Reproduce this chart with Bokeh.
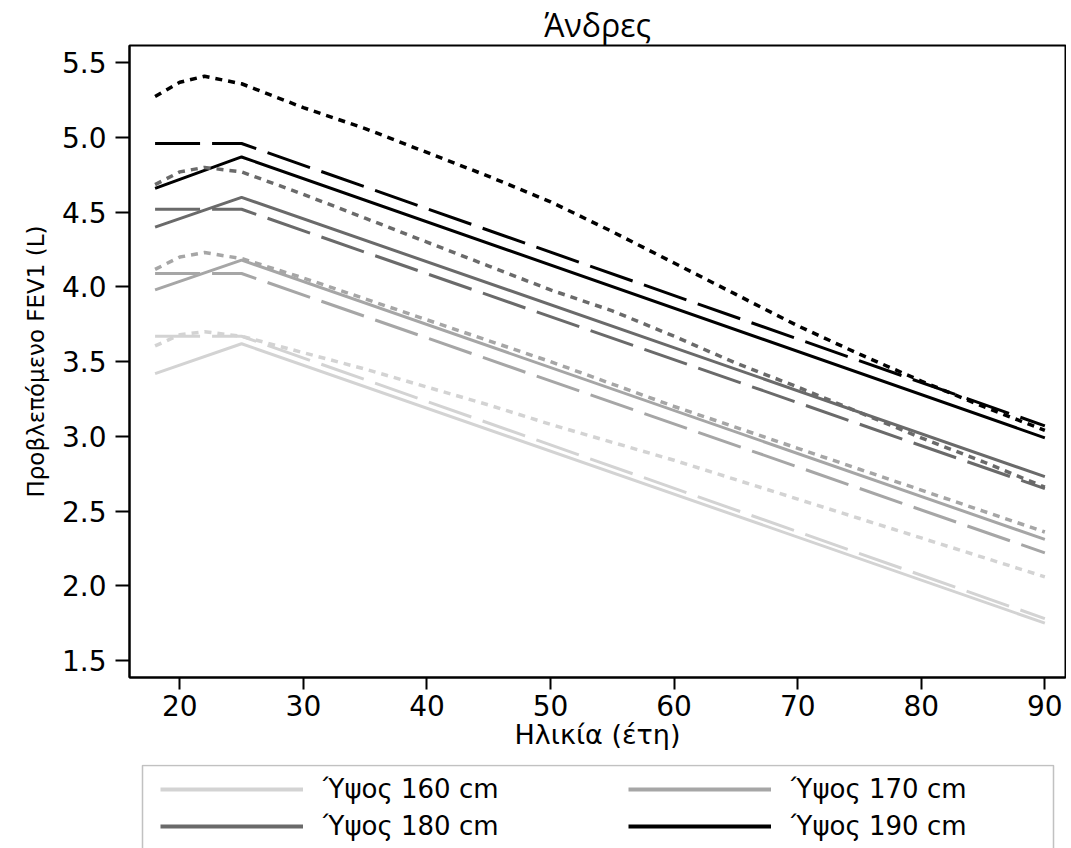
from bokeh.plotting import figure
from bokeh.models import Range1d, FixedTicker, NumeralTickFormatter, Legend, LegendItem, BoxAnnotation
from bokeh.layouts import column
from bokeh.embed import file_html
from bokeh.resources import INLINE

# ---------------- data ----------------
heights = ["160", "170", "180", "190"]
colors = ["#d3d3d3", "#a6a6a6", "#6a6a6a", "#000000"]

age_lin = [18, 25, 90]
solid_160 = [3.42, 3.62, 1.75]
solid_170 = [3.98, 4.18, 2.31]
solid_180 = [4.40, 4.60, 2.73]
solid_190 = [4.66, 4.87, 2.99]

dash_160 = [3.67, 3.67, 1.78]
dash_170 = [4.09, 4.09, 2.22]
dash_180 = [4.52, 4.52, 2.65]
dash_190 = [4.96, 4.96, 3.07]

age_curve = [18, 20, 22, 25, 30, 35, 40, 45, 50, 55, 60, 65, 70, 75, 80, 85, 90]
dot_160 = [3.605, 3.68, 3.70, 3.67, 3.56, 3.45, 3.33, 3.21, 3.08, 2.96, 2.84, 2.71, 2.58, 2.45, 2.32, 2.19, 2.06]
dot_170 = [4.118, 4.20, 4.23, 4.19, 4.06, 3.92, 3.78, 3.64, 3.50, 3.35, 3.20, 3.06, 2.92, 2.78, 2.64, 2.50, 2.36]
dot_180 = [4.685, 4.77, 4.80, 4.77, 4.62, 4.46, 4.30, 4.14, 3.98, 3.84, 3.67, 3.49, 3.33, 3.16, 2.99, 2.83, 2.66]
dot_190 = [5.275, 5.37, 5.41, 5.36, 5.20, 5.06, 4.90, 4.74, 4.57, 4.37, 4.16, 3.95, 3.74, 3.55, 3.37, 3.20, 3.04]

x_ticks = [20, 30, 40, 50, 60, 70, 80, 90]
y_ticks = [1.5, 2.0, 2.5, 3.0, 3.5, 4.0, 4.5, 5.0, 5.5]

solids = [solid_160, solid_170, solid_180, solid_190]
dashes = [dash_160, dash_170, dash_180, dash_190]
dots = [dot_160, dot_170, dot_180, dot_190]

W = 1066
BL = 129
BR = 1
PH = 764
TOTAL_H = 848

# ---------------- main figure ----------------
p = figure(width=W, height=PH, output_backend="svg", toolbar_location=None,
           x_range=Range1d(15.93, 91.67), y_range=Range1d(1.386, 5.616),
           min_border_left=BL, min_border_right=BR, min_border_top=44,
           min_border_bottom=87, title="Άνδρες")

p.title.text_font = "Open Sans"
p.title.text_font_size = "32px"
p.title.text_font_style = "normal"
p.title.text_color = "black"
p.title.align = "center"
p.title.standoff = 0

p.xgrid.visible = False
p.ygrid.visible = False
p.outline_line_color = "black"
p.outline_line_width = 2

for ax in (p.xaxis[0], p.yaxis[0]):
    ax.axis_line_color = "black"
    ax.axis_line_width = 2
    ax.major_tick_line_color = "black"
    ax.major_tick_line_width = 2
    ax.major_tick_in = 0
    ax.minor_tick_line_color = None
    ax.major_label_text_font = "DejaVu Sans"
    ax.major_label_text_font_size = "28px"
    ax.major_label_text_color = "black"
    ax.axis_label_text_font = "DejaVu Sans"
    ax.axis_label_text_font_style = "normal"
    ax.axis_label_text_color = "black"

p.xaxis.ticker = FixedTicker(ticks=x_ticks)
p.yaxis.ticker = FixedTicker(ticks=y_ticks)
p.yaxis.formatter = NumeralTickFormatter(format="0.0")
p.xaxis.major_tick_out = 12
p.yaxis.major_tick_out = 14
p.xaxis.major_label_standoff = 5
p.yaxis.major_label_standoff = 9
p.yaxis.major_label_orientation = "horizontal"
p.xaxis.axis_label = "Ηλικία (έτη)"
p.yaxis.axis_label = "Προβλεπόμενο FEV1 (L)"
p.xaxis.axis_label_text_font_size = "27px"
p.yaxis.axis_label_text_font_size = "23px"
p.xaxis.axis_label_standoff = 0
p.yaxis.axis_label_standoff = 10

for vals, c in zip(solids, colors):
    p.line(age_lin, vals, line_color=c, line_width=3)
for vals, c in zip(dashes, colors):
    p.line(age_lin, vals, line_color=c, line_width=3, line_dash="45 12")
for vals, c in zip(dots, colors):
    p.line(age_curve, vals, line_color=c, line_width=3.5, line_dash="7 6")

# ---------------- legend strip ----------------
LH = TOTAL_H - PH
q = figure(width=W, height=LH, output_backend="svg", toolbar_location=None,
           x_range=Range1d(BL, W - BR), y_range=Range1d(0, LH),
           x_axis_type=None, y_axis_type=None,
           min_border_left=BL, min_border_right=BR,
           min_border_top=0, min_border_bottom=0)
q.xgrid.visible = False
q.ygrid.visible = False
q.outline_line_color = None

# off-screen sample lines that only feed the legend glyphs
legend_renderers = [q.line([-20, -10], [-20, -10], line_color=c, line_width=4) for c in colors]
labels = ["Ύψος " + h + " cm" for h in heights]

def make_legend(idx, x):
    items = [LegendItem(label=labels[i], renderers=[legend_renderers[i]]) for i in idx]
    return Legend(items=items, orientation="vertical", location=(x, 7),
                  margin=0, padding=0, glyph_width=143, glyph_height=30,
                  label_height=30, label_standoff=20, spacing=7,
                  label_text_font="DejaVu Sans", label_text_font_size="26px",
                  label_text_color="black", border_line_color=None,
                  background_fill_alpha=0)

q.add_layout(make_legend([0, 2], 31))
q.add_layout(make_legend([1, 3], 499))
q.add_layout(BoxAnnotation(left=142, right=1053, bottom=-10, top=LH - 1,
                           fill_color=None, fill_alpha=0,
                           line_color="#333333", line_width=1.5))

open("out.html", "w").write(file_html(column(p, q), INLINE))
